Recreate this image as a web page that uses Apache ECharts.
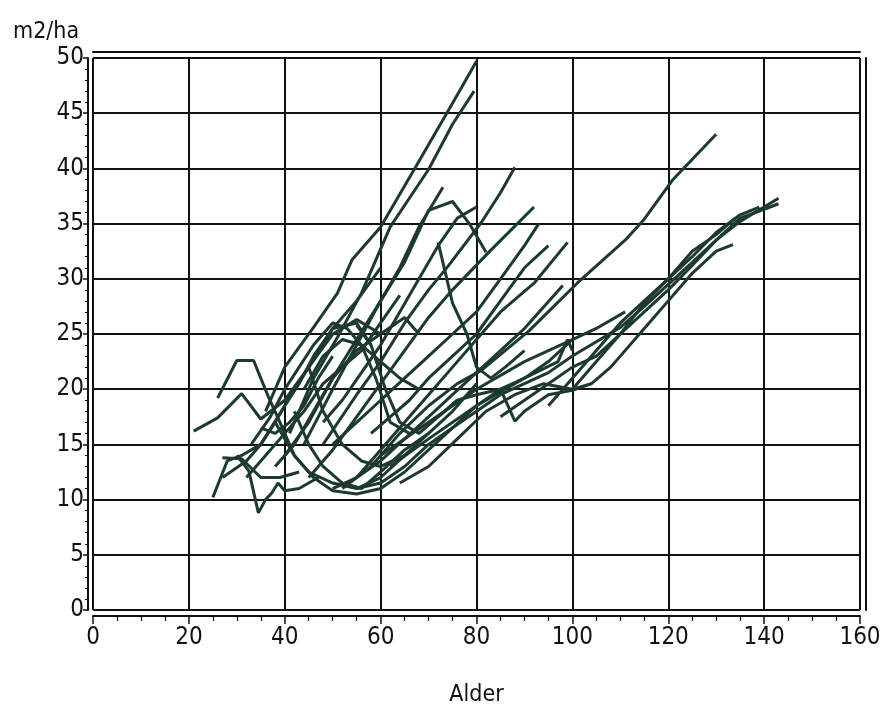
<!DOCTYPE html>
<html><head><meta charset="utf-8">
<script src="https://cdn.jsdelivr.net/npm/echarts@6/dist/echarts.min.js"></script>
<style>html,body{margin:0;padding:0;background:#fff}#c{width:889px;height:720px}</style>
</head><body><div id="c"></div>
<script>
var xTicks = [0,20,40,60,80,100,120,140,160];
var yTicks = [0,5,10,15,20,25,30,35,40,45,50];
var xName = 'Alder';
var yName = 'm2/ha';

var s01 = [[36,18],[40,22],[46,25.6],[51,28.7],[54,31.7],[60,34.7],[67,39.9],[75,45.9],[80,49.7]];
var s02 = [[41,16],[46,21],[51,24.7],[56,28.7],[62,34.7],[70,39.9],[75,44],[79.5,47]];
var s03 = [[44,15],[50,20],[55,24],[60,28],[64,31],[68,34.7],[73,38.3]];
var s04 = [[40,14],[45,17],[50,21],[55,24.5],[60,28],[65,31.5],[70,36.2],[75,37],[78.5,35],[82,32.4]];
var s05 = [[72,33.3],[75,27.8],[78,25],[80,22],[83,21],[86,22],[90,23.5]];
var s06 = [[48,15],[55,19.5],[60,22.5],[65,26],[70,29],[74,31.1],[81,35.1],[85,37.8],[88,40.1]];
var s07 = [[45,12],[50,14.5],[55,17.5],[60,20.5],[65,23.5],[70,26.5],[75,29],[83,32.6],[92,36.5]];
var s08 = [[55,12],[60,14.5],[65,17],[70,19.5],[75,22],[80,24.5],[85,27],[92,29.6],[99,33.3]];
var s09 = [[52,11],[58,13],[64,16],[70,18.5],[76,20.5],[81,21.7],[91,25.3],[101,29.6],[111,33.5],[115,35.4],[121,39],[130,43.1]];
var s10 = [[55,11],[60,11.5],[65,13],[70,15],[75,16.5],[80,18],[85,19.5],[90,20.5],[95,21.5],[100,23],[105,24.3],[110,25.6],[115,27.5],[120,29.5],[125,31.5],[130,33.5],[135,35.2],[140,36.5],[143,37.3]];
var s11 = [[72,17.5],[76,19],[80,19.5],[85,20],[88,17.1],[90,18],[95,19.5],[100,19.9],[104,20.5],[108,22],[115,25.5],[120,28],[125,30.5],[130,32.5],[133.5,33.1]];
var s12 = [[85,17.5],[90,19],[95,20.5],[100,22],[105,23],[110,25],[115,27],[120,29],[125,31.2],[130,33.5],[135,35.5],[140,36.3],[143,36.8]];
var s13 = [[95,18.5],[100,21],[105,23.5],[110,26],[115,28],[120,30],[125,32],[130,34.2],[135,35.8],[139,36.5]];
var s14 = [[60,14],[70,17],[80,20],[90,22.5],[100,24.5],[105,25.5],[111,27]];
var s15 = [[50,11],[55,12],[60,13.5],[65,15.5],[70,17.5],[75,19.5],[80,21.5],[85,23.5],[90,25.5],[98,29.4]];
var s16 = [[62,13],[70,15.5],[80,18.5],[90,21],[97,22.5],[99,24.5],[100,23.5]];
var s17 = [[26,19.2],[30,22.6],[33.5,22.6],[36.5,19.4],[39,17],[42,14],[45,12.5],[50,11.5],[55,11],[60,12],[65,14]];
var s18 = [[21,16.2],[26,17.4],[31,19.6],[35,17.3],[40,19],[45,22],[50,25],[55,26.3],[60,25]];
var s19 = [[25,10.2],[28,13.5],[31,14],[35,15],[40,18.5],[45,22],[50,25.5],[55,26],[58,24]];
var s20 = [[27,13.8],[31,13.7],[35,12],[39,12],[43,12.5]];
var s21 = [[30,14],[32.5,12.6],[34.5,8.8],[36,10],[37.3,10.6],[38.6,11.5],[40,10.8],[43,11],[47,12]];
var s22 = [[27,12],[32,13.5],[35,15],[38,17],[40,18.5],[43,20.5],[46,23],[50,25.5],[55,28],[60,31]];
var s23 = [[38,17],[42,14],[46,12],[50,10.8],[55,10.5],[60,11],[65,12.5],[70,14.5],[75,16.5],[80,18.5],[85,20],[90,21],[95,22.5],[100,24.5]];
var s24 = [[42,18],[45,15],[48,13],[52,11.5],[56,11],[60,12.5],[65,14.5],[70,16],[75,18],[80,20.5]];
var s25 = [[45,22],[48,18],[52,15],[56,13.5],[60,13],[65,14],[70,16]];
var s26 = [[55,25.8],[58,24],[61,20],[64,17],[68,16],[72,17.5],[76,19]];
var s27 = [[33,15],[37,17.5],[40,20],[43,22],[46,24],[50,26],[53,25.5],[56,24],[59,21],[62,17],[66,16]];
var s28 = [[38,13],[42,15],[46,18],[50,21],[55,23.5],[60,25],[65,26.5],[68,25]];
var s29 = [[44,20],[48,23],[52,24.5],[56,24],[60,22.5],[64,21],[68,20]];
var s30 = [[48,17],[52,19],[56,21.5],[60,24],[64,27],[68,30],[72,33],[76,35.5],[80,36.5]];
var s31 = [[50,15],[55,17],[60,19],[65,21],[70,23],[75,25],[80,27],[85,30],[90,33],[93,35]];
var s32 = [[58,16],[62,17.5],[66,19],[70,21],[75,23],[80,25],[85,28],[90,31],[95,33]];
var s33 = [[64,11.5],[70,13],[76,15.5],[82,18],[88,19.5],[94,20.5],[100,20],[104,20.5]];
var s34 = [[100,20],[105,22.5],[110,25],[115,27.8],[120,30],[125,32.5],[130,34],[134,35.5]];
var s35 = [[35,16.5],[38,16],[41,17],[44,18.5],[47,21],[50,23]];
var s36 = [[32,12],[36,14],[40,16],[44,18],[48,20.5],[52,22],[56,23.5],[60,26],[64,28.5]];

var allSeries = [s01,s02,s03,s04,s05,s06,s07,s08,s09,s10,s11,s12,s13,s14,s15,s16,s17,s18,s19,s20,s21,s22,s23,s24,s25,s26,s27,s28,s29,s30,s31,s32,s33,s34,s35,s36];

var FONT = "'Liberation Sans Narrow','DejaVu Sans Condensed','Liberation Sans',sans-serif";
var chart = echarts.init(document.getElementById('c'), null, {renderer:'canvas'});
var lineColor = '#1d3a2d';
var axisC = '#111';
chart.setOption({
  animation:false,
  backgroundColor:'#fff',
  grid:{left:93,right:29,top:58,bottom:110},
  title:{text:yName,left:8,top:16,textStyle:{fontFamily:FONT,fontSize:23,fontWeight:'normal',color:'#111'}},
  xAxis:[{
    type:'value',min:xTicks[0],max:xTicks[xTicks.length-1],interval:20,
    name:xName,nameLocation:'middle',nameGap:68,
    nameTextStyle:{fontFamily:FONT,fontSize:23,color:'#111'},
    offset:6,
    axisLine:{show:true,onZero:false,lineStyle:{color:axisC,width:2}},
    axisTick:{show:true,length:8,lineStyle:{color:axisC,width:1.5}},
    minorTick:{show:true,splitNumber:4,length:5,lineStyle:{color:axisC,width:1.2}},
    axisLabel:{fontFamily:FONT,fontSize:24,color:'#111',margin:10},
    splitLine:{show:true,lineStyle:{color:axisC,width:2}}
  },{
    type:'value',min:xTicks[0],max:xTicks[xTicks.length-1],position:'top',offset:6,
    axisLine:{show:true,onZero:false,lineStyle:{color:axisC,width:2}},
    axisTick:{show:false},axisLabel:{show:false},splitLine:{show:false}
  }],
  yAxis:[{
    type:'value',min:yTicks[0],max:yTicks[yTicks.length-1],interval:5,
    offset:5,
    axisLine:{show:true,onZero:false,lineStyle:{color:axisC,width:2}},
    axisTick:{show:true,length:5,lineStyle:{color:axisC,width:1.5}},
    minorTick:{show:true,splitNumber:5,length:3,lineStyle:{color:axisC,width:1}},
    axisLabel:{fontFamily:FONT,fontSize:24,color:'#111',margin:4},
    splitLine:{show:true,lineStyle:{color:axisC,width:2}}
  },{
    type:'value',min:yTicks[0],max:yTicks[yTicks.length-1],position:'right',offset:6,
    axisLine:{show:true,onZero:false,lineStyle:{color:axisC,width:2}},
    axisTick:{show:false},axisLabel:{show:false},splitLine:{show:false}
  }],
  series: allSeries.map(function(d,i){
    return {type:'line',name:'s'+(i+1),data:d,showSymbol:false,symbol:'none',
      lineStyle:{color:lineColor,width:3},z:3};
  })
});
</script></body></html>
